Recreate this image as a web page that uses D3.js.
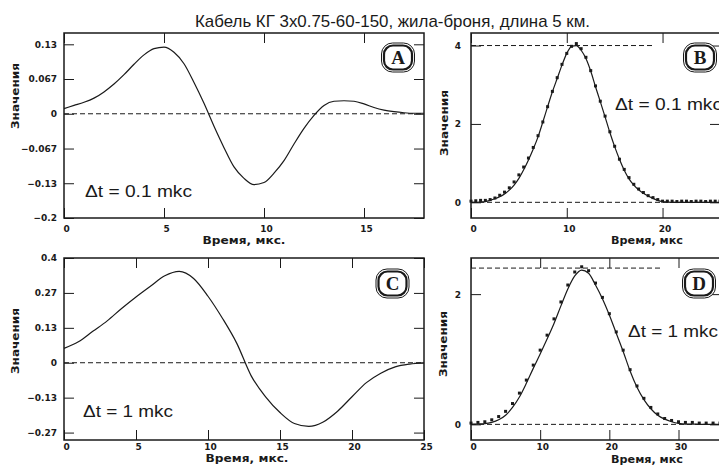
<!DOCTYPE html>
<html>
<head>
<meta charset="utf-8">
<script src="https://cdn.jsdelivr.net/npm/d3@7"></script>
<style>
  body { margin: 0; background: #fff; }
  svg { display: block; }
</style>
</head>
<body>
<div id="chart"></div>
<script>
// 1. DATA
const chartTitle = 'Кабель КГ 3x0.75-60-150, жила-броня, длина 5 км.'
const yTitle = 'Значения'
const xTitleLeft = 'Время,  мкс.'
const xTitleRight = 'Время, мкс'

// A: dt = 0.1 mkc
const timeA = [0,0.5,1,1.5,2,2.5,3,3.5,4,4.5,5,5.5,6,6.5,7,7.5,8,8.5,9,9.5,10,10.5,11,11.5,12,12.5,13,13.5,14,14.5,15,15.5,16,16.5,17,17.5,18]
const valueA = [0.010,0.016,0.022,0.030,0.042,0.057,0.075,0.095,0.113,0.125,0.128,0.118,0.096,0.060,0.020,-0.024,-0.065,-0.102,-0.124,-0.136,-0.132,-0.114,-0.090,-0.058,-0.028,-0.003,0.016,0.024,0.025,0.024,0.019,0.012,0.007,0.004,0.002,0.001,0.001]
const xTicksA = [0, 5, 10, 15]
const yTicksA = [0.1333, 0.0667, 0, -0.0667, -0.1333, -0.2]
const yLabelsA = ['0.13', '0.067', '0', '\u22120.067', '\u22120.13', '\u22120.2']

// B: dt = 0.1 mkc, model line + measured points
const timeB = [0,0.5,1,1.5,2,2.5,3,3.5,4,4.5,5,5.5,6,6.5,7,7.5,8,8.5,9,9.5,10,10.5,11,11.5,12,12.5,13,13.5,14,14.5,15,15.5,16,16.5,17,17.5,18,18.5,19,19.5,20,20.5,21,21.5,22,22.5,23,23.5,24,24.5,25,25.5,26]
const modelB = [0,0,0.01,0.02,0.05,0.09,0.14,0.21,0.31,0.44,0.61,0.83,1.08,1.36,1.67,2.05,2.44,2.82,3.16,3.50,3.80,3.98,4.00,3.88,3.67,3.35,2.95,2.57,2.18,1.78,1.42,1.10,0.82,0.60,0.44,0.32,0.23,0.16,0.10,0.05,0.02,0.01,0,0,0,0,0,0,0,0,0,0,0]
const measB = [0.03,0.04,0.05,0.05,0.07,0.11,0.18,0.26,0.37,0.52,0.70,0.90,1.13,1.40,1.70,2.05,2.44,2.83,3.18,3.52,3.80,3.98,4.05,3.92,3.70,3.36,2.97,2.58,2.20,1.80,1.43,1.10,0.84,0.63,0.46,0.34,0.25,0.17,0.12,0.07,0.03,0.03,0.03,0.02,0.03,0.03,0.02,0.03,0.03,0.02,0.03,0.03,0.03]
const xTicksB = [0, 10, 20]
const yTicksB = [0, 2, 4]
const yLabelsB = ['0', '2', '4']
const peakB = { value: 4.0, end: 19 }

// C: dt = 1 mkc
const timeC = [0,1,2,3,4,5,6,7,8,9,10,11,12,13,14,15,16,17,18,19,20,21,22,23,24,25]
const valueC = [0.055,0.080,0.120,0.160,0.207,0.251,0.292,0.332,0.349,0.322,0.254,0.170,0.074,-0.050,-0.130,-0.190,-0.232,-0.243,-0.226,-0.185,-0.130,-0.076,-0.040,-0.016,-0.005,0.000]
const xTicksC = [0, 5, 10, 15, 20, 25]
const yTicksC = [0.4, 0.2667, 0.1333, 0, -0.1333, -0.2667]
const yLabelsC = ['0.4', '0.27', '0.13', '0', '\u22120.13', '\u22120.27']

// D: dt = 1 mkc, model line + measured points
const timeD = [0,1,2,3,4,5,6,7,8,9,10,11,12,13,14,15,16,17,18,19,20,21,22,23,24,25,26,27,28,29,30,31,32,33,34,35,36]
const modelD = [0,0.005,0.01,0.03,0.07,0.14,0.26,0.42,0.63,0.86,1.08,1.31,1.55,1.82,2.08,2.28,2.37,2.32,2.14,1.93,1.68,1.40,1.12,0.82,0.57,0.38,0.24,0.14,0.08,0.04,0.015,0.005,0.005,0,0,0,0]
const measD = [0.02,0.03,0.04,0.07,0.12,0.20,0.32,0.48,0.68,0.91,1.14,1.37,1.62,1.88,2.14,2.34,2.42,2.36,2.17,1.95,1.70,1.42,1.14,0.84,0.59,0.40,0.26,0.16,0.09,0.06,0.04,0.03,0.03,0.02,0.02,0.02,0.02]
const xTicksD = [0, 10, 20, 30]
const yTicksD = [0, 2]
const yLabelsD = ['0', '2']
const peakD = { value: 2.4, end: 27.7 }

// 2. DIMENSIONS
const dimensions = { width: 719, height: 467 }

const panels = [
  { letter: 'A', time: timeA, line: valueA, dots: null, peak: null,
    xDomain: [0, 18], yDomain: [-0.2, 0.155],
    xTicks: xTicksA, yTicks: yTicksA, yLabels: yLabelsA,
    box: { left: 64, top: 33, right: 424, bottom: 218 }, xPad: 8,
    badge: [398, 57.5], delta: '\u0394t = 0.1 mkc', deltaPos: [85, 197], deltaLen: 107,
    yTitlePos: [15, 96], xTitle: xTitleLeft, xTitlePos: [244, 244], xTitleLen: 83, labelGap: 7 },
  { letter: 'B', time: timeB, line: modelB, dots: measB, peak: peakB,
    xDomain: [0, 26], yDomain: [-0.4, 4.32],
    xTicks: xTicksB, yTicks: yTicksB, yLabels: yLabelsB,
    box: { left: 471, top: 33, right: 720, bottom: 218 }, xPad: 8,
    badge: [700, 57.5], delta: '\u0394t = 0.1 mkc', deltaPos: [615, 110], deltaLen: 107,
    yTitlePos: [444, 123], xTitle: xTitleRight, xTitlePos: [647, 244], xTitleLen: 72, labelGap: 10 },
  { letter: 'C', time: timeC, line: valueC, dots: null, peak: null,
    xDomain: [0, 25], yDomain: [-0.295, 0.4],
    xTicks: xTicksC, yTicks: yTicksC, yLabels: yLabelsC,
    box: { left: 64, top: 258, right: 424, bottom: 440 }, xPad: 4,
    badge: [392.5, 283.5], delta: '\u0394t = 1 mkc', deltaPos: [83, 417], deltaLen: 90,
    yTitlePos: [15, 341], xTitle: xTitleLeft, xTitlePos: [247, 462], xTitleLen: 83, labelGap: 7 },
  { letter: 'D', time: timeD, line: modelD, dots: measD, peak: peakD,
    xDomain: [0, 36], yDomain: [-0.24, 2.555],
    xTicks: xTicksD, yTicks: yTicksD, yLabels: yLabelsD,
    box: { left: 471, top: 258, right: 720, bottom: 440 }, xPad: 4,
    badge: [699, 283.5], delta: '\u0394t = 1 mkc', deltaPos: [628, 337], deltaLen: 90,
    yTitlePos: [443, 344], xTitle: xTitleRight, xTitlePos: [647, 463], xTitleLen: 72, labelGap: 10 },
]

const ink = '#1a1a1a'
const smallFont = 'DejaVu Sans, Verdana, sans-serif'

const svg = d3.select('#chart')
  .append('svg')
    .attr('width', dimensions.width)
    .attr('height', dimensions.height)
    .style('background', '#fff')

// title
svg.append('text')
  .attr('x', 195)
  .attr('y', 26.5)
  .attr('textLength', 395)
  .attr('lengthAdjust', 'spacingAndGlyphs')
  .attr('font-family', 'Liberation Sans, Arial, sans-serif')
  .attr('font-size', 17)
  .attr('fill', ink)
  .text(chartTitle)

// 3. PANELS
function drawPanel(p) {
  const b = p.box
  const xScale = d3.scaleLinear().domain(p.xDomain).range([b.left, b.right])
  const yScale = d3.scaleLinear().domain(p.yDomain).range([b.bottom, b.top])

  const g = svg.append('g')

  // dashed reference lines
  g.append('line')
    .attr('x1', xScale(p.xDomain[0])).attr('x2', xScale(p.xDomain[1]))
    .attr('y1', yScale(0)).attr('y2', yScale(0))
    .attr('stroke', ink).attr('stroke-width', 1).attr('stroke-dasharray', '5,3')

  if (p.peak) {
    g.append('line')
      .attr('x1', xScale(0)).attr('x2', xScale(p.peak.end))
      .attr('y1', yScale(p.peak.value)).attr('y2', yScale(p.peak.value))
      .attr('stroke', ink).attr('stroke-width', 1).attr('stroke-dasharray', '5,3')
  }

  // data
  const rows = p.time.map((t, i) => ({ t, v: p.line[i], m: p.dots ? p.dots[i] : null }))

  const lineGenerator = d3.line()
    .x(d => xScale(d.t))
    .y(d => yScale(d.v))
    .curve(d3.curveMonotoneX)

  g.append('path')
    .attr('d', lineGenerator(rows))
    .attr('fill', 'none')
    .attr('stroke', ink)
    .attr('stroke-width', 1.2)

  if (p.dots) {
    g.selectAll('.dot')
      .data(rows)
      .join('rect')
        .attr('x', d => xScale(d.t) - 1.5)
        .attr('y', d => yScale(d.m) - 1.5)
        .attr('width', 3)
        .attr('height', 3)
        .attr('fill', ink)
  }

  // axes, ticks pointing inward on all four sides
  const styleAxis = sel => {
    sel.select('.domain').remove()
    sel.selectAll('.tick line').attr('stroke', ink).attr('stroke-width', 1)
    sel.selectAll('text')
      .attr('fill', ink)
      .attr('font-family', smallFont)
      .attr('font-weight', 'bold')
      .attr('font-size', 9)
  }

  g.append('g')
    .attr('transform', `translate(${b.left},0)`)
    .call(d3.axisLeft(yScale).tickValues(p.yTicks).tickSize(-10).tickPadding(p.labelGap)
      .tickFormat((d, i) => p.yLabels[i]))
    .call(styleAxis)

  g.append('g')
    .attr('transform', `translate(${b.right},0)`)
    .call(d3.axisRight(yScale).tickValues(p.yTicks).tickSize(-10).tickFormat(''))
    .call(styleAxis)

  g.append('g')
    .attr('transform', `translate(0,${b.bottom})`)
    .call(d3.axisBottom(xScale).tickValues(p.xTicks).tickSize(-10).tickPadding(p.xPad))
    .call(styleAxis)
    .selectAll('text').attr('dx', 2)

  g.append('g')
    .attr('transform', `translate(0,${b.top})`)
    .call(d3.axisTop(xScale).tickValues(p.xTicks).tickSize(-10).tickFormat(''))
    .call(styleAxis)

  // frame
  g.append('rect')
    .attr('x', b.left).attr('y', b.top)
    .attr('width', b.right - b.left).attr('height', b.bottom - b.top)
    .attr('fill', 'none')
    .attr('stroke', ink)
    .attr('stroke-width', 1.5)

  // axis titles
  g.append('text')
    .attr('transform', `translate(${p.yTitlePos[0]},${p.yTitlePos[1]}) rotate(-90)`)
    .attr('x', -33)
    .attr('dominant-baseline', 'central')
    .attr('textLength', 66)
    .attr('lengthAdjust', 'spacingAndGlyphs')
    .attr('font-family', smallFont)
    .attr('font-weight', 'bold')
    .attr('font-size', 10)
    .attr('fill', ink)
    .text(yTitle)

  g.append('text')
    .attr('x', p.xTitlePos[0] - p.xTitleLen / 2)
    .attr('y', p.xTitlePos[1])
    .attr('textLength', p.xTitleLen)
    .attr('lengthAdjust', 'spacingAndGlyphs')
    .attr('font-family', smallFont)
    .attr('font-weight', 'bold')
    .attr('font-size', 10)
    .attr('fill', ink)
    .text(p.xTitle)

  // delta t note
  g.append('text')
    .attr('x', p.deltaPos[0])
    .attr('y', p.deltaPos[1])
    .attr('textLength', p.deltaLen)
    .attr('lengthAdjust', 'spacingAndGlyphs')
    .attr('font-family', 'Liberation Sans, Arial, sans-serif')
    .attr('font-size', 17)
    .attr('fill', ink)
    .text(p.delta)

  // letter badge
  const badge = g.append('g')
    .attr('transform', `translate(${p.badge[0]},${p.badge[1]})`)

  badge.append('rect')
    .attr('x', -16.5).attr('y', -14.5)
    .attr('width', 33).attr('height', 29)
    .attr('rx', 11)
    .attr('fill', '#fff')
    .attr('stroke', ink)
    .attr('stroke-width', 1)

  badge.append('rect')
    .attr('x', -14).attr('y', -12)
    .attr('width', 28).attr('height', 24)
    .attr('rx', 9)
    .attr('fill', 'none')
    .attr('stroke', ink)
    .attr('stroke-width', 2.2)

  badge.append('text')
    .attr('text-anchor', 'middle')
    .attr('y', 6.5)
    .attr('font-family', 'Liberation Serif, Times New Roman, serif')
    .attr('font-weight', 'bold')
    .attr('font-size', 19)
    .attr('fill', ink)
    .text(p.letter)
}

panels.forEach(drawPanel)
</script>
</body>
</html>
